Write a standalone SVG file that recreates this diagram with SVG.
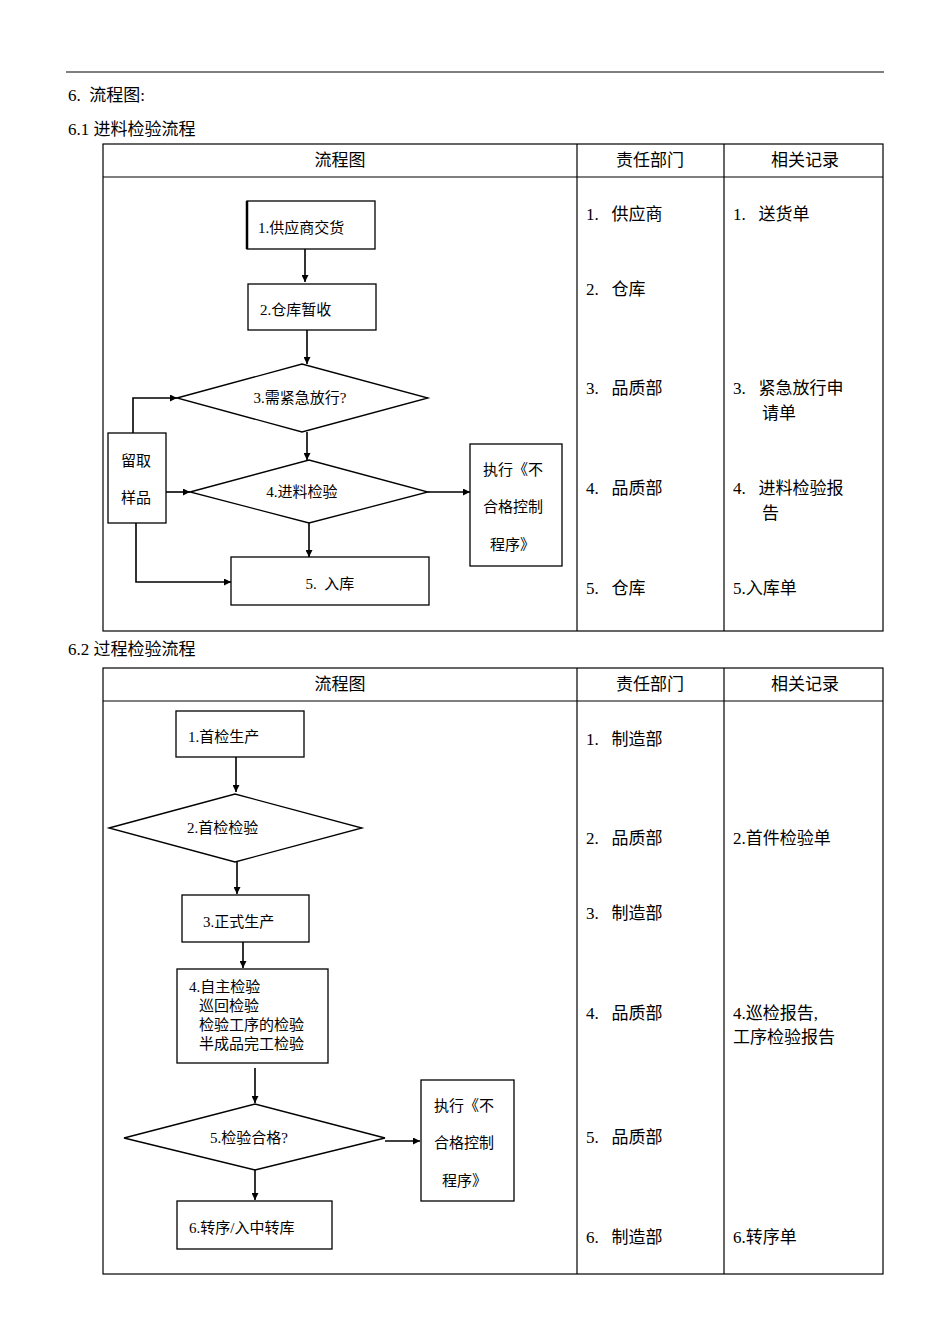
<svg xmlns="http://www.w3.org/2000/svg" width="950" height="1344" viewBox="0 0 950 1344">
<style>
text{font-family:"Liberation Serif","Noto Sans CJK SC",serif;fill:#000;white-space:pre}
.t{font-size:17px}
.s{font-size:15px}
.b{fill:#fff;stroke:#000;stroke-width:1.3}
.g{stroke:#000;stroke-width:1.2;fill:none}
.c{stroke:#000;stroke-width:1.6;fill:none;marker-end:url(#a)}
</style>
<defs><marker id="a" viewBox="0 0 10 10" refX="10" refY="5" markerWidth="7" markerHeight="7" markerUnits="userSpaceOnUse" orient="auto"><path d="M0,0L10,5L0,10z" fill="#000"/></marker></defs>
<rect width="950" height="1344" fill="#fff"/>
<line x1="66" y1="72" x2="884" y2="72" stroke="#000" stroke-width="1.2"/>
<text class="t" x="68" y="101">6.  流程图:</text>
<text class="t" x="68" y="135">6.1 进料检验流程</text>
<text class="t" x="68" y="655">6.2 过程检验流程</text>
<g id="table1" class="g">
<rect x="103" y="144" width="780" height="487"/>
<line x1="103" y1="177" x2="883" y2="177"/><line x1="577" y1="144" x2="577" y2="631"/><line x1="724" y1="144" x2="724" y2="631"/>
</g>
<g id="table2" class="g">
<rect x="103" y="668" width="780" height="606"/>
<line x1="103" y1="701" x2="883" y2="701"/><line x1="577" y1="668" x2="577" y2="1274"/><line x1="724" y1="668" x2="724" y2="1274"/>
</g>
<g class="t" text-anchor="middle">
<text x="340" y="166">流程图</text><text x="650" y="166">责任部门</text><text x="805" y="166">相关记录</text>
<text x="340" y="690">流程图</text><text x="650" y="690">责任部门</text><text x="805" y="690">相关记录</text>
</g>
<g id="cols1" class="t">
<text x="586" y="220">1.   供应商</text><text x="586" y="295">2.   仓库</text><text x="586" y="394">3.   品质部</text><text x="586" y="494">4.   品质部</text><text x="586" y="594">5.   仓库</text>
<text x="733" y="220">1.   送货单</text><text x="733" y="394">3.   紧急放行申</text><text x="762" y="419">请单</text><text x="733" y="494">4.   进料检验报</text><text x="762" y="519">告</text><text x="733" y="594">5.入库单</text>
</g>
<g id="cols2" class="t">
<text x="586" y="745">1.   制造部</text><text x="586" y="844">2.   品质部</text><text x="586" y="919">3.   制造部</text><text x="586" y="1019">4.   品质部</text><text x="586" y="1143">5.   品质部</text><text x="586" y="1243">6.   制造部</text>
<text x="733" y="844">2.首件检验单</text><text x="733" y="1019">4.巡检报告,</text><text x="733" y="1043">工序检验报告</text><text x="733" y="1243">6.转序单</text>
</g>
<g id="n1"><rect class="b" x="247" y="201" width="128" height="48"/><line x1="247" y1="201" x2="247" y2="249" stroke="#000" stroke-width="2.5"/><text class="s" x="258" y="233">1.供应商交货</text></g>
<g id="n2"><rect class="b" x="248" y="284" width="128" height="46"/><text class="s" x="260" y="315">2.仓库暂收</text></g>
<g id="n3"><polygon class="b" points="177,398 302,364 428,398 302,432"/><text class="s" x="300" y="403" text-anchor="middle">3.需紧急放行?</text></g>
<g id="n4"><polygon class="b" points="190,492 309,460 428,492 309,523"/><text class="s" x="302" y="497" text-anchor="middle">4.进料检验</text></g>
<g id="n5"><rect class="b" x="231" y="557" width="198" height="48"/><text class="s" x="330" y="589" text-anchor="middle">5.  入库</text></g>
<g id="n6"><rect class="b" x="108" y="433" width="58" height="90"/><text class="s" x="121" y="466">留取</text><text class="s" x="121" y="503">样品</text></g>
<g id="n7"><rect class="b" x="470" y="444" width="92" height="122"/><text class="s" x="483" y="475">执行《不</text><text class="s" x="483" y="512">合格控制</text><text class="s" x="490" y="550">程序》</text></g>
<g id="m1"><rect class="b" x="176" y="711" width="128" height="46"/><text class="s" x="188" y="742">1.首检生产</text></g>
<g id="m2"><polygon class="b" points="109,828 235,794 362,828 235,862"/><text class="s" x="187" y="833">2.首检检验</text></g>
<g id="m3"><rect class="b" x="182" y="895" width="127" height="47"/><text class="s" x="203" y="927">3.正式生产</text></g>
<g id="m4"><rect class="b" x="177" y="969" width="151" height="94"/><text class="s" x="189" y="992">4.自主检验</text><text class="s" x="199" y="1011">巡回检验</text><text class="s" x="199" y="1030">检验工序的检验</text><text class="s" x="199" y="1049">半成品完工检验</text></g>
<g id="m5"><polygon class="b" points="124,1138 255,1104 385,1138 255,1170"/><text class="s" x="249" y="1143" text-anchor="middle">5.检验合格?</text></g>
<g id="m6"><rect class="b" x="421" y="1080" width="93" height="121"/><text class="s" x="434" y="1111">执行《不</text><text class="s" x="434" y="1148">合格控制</text><text class="s" x="442" y="1186">程序》</text></g>
<g id="m7"><rect class="b" x="177" y="1201" width="155" height="48"/><text class="s" x="189" y="1233">6.转序/入中转库</text></g>
<g id="connectors">
<path class="c" d="M305,249V282"/><path class="c" d="M307,330V364"/><path class="c" d="M307,432V460"/><path class="c" d="M309,523V557"/>
<path class="c" d="M133,433V398H177"/><path class="c" d="M166,492H190"/><path class="c" d="M136,523V582H231"/><path class="c" d="M428,492H470"/>
<path class="c" d="M236,757V792"/><path class="c" d="M237,862V894"/><path class="c" d="M243,942V968"/><path class="c" d="M255,1068V1103"/>
<path class="c" d="M385,1141H420"/><path class="c" d="M255,1170V1200"/>
</g>
</svg>
